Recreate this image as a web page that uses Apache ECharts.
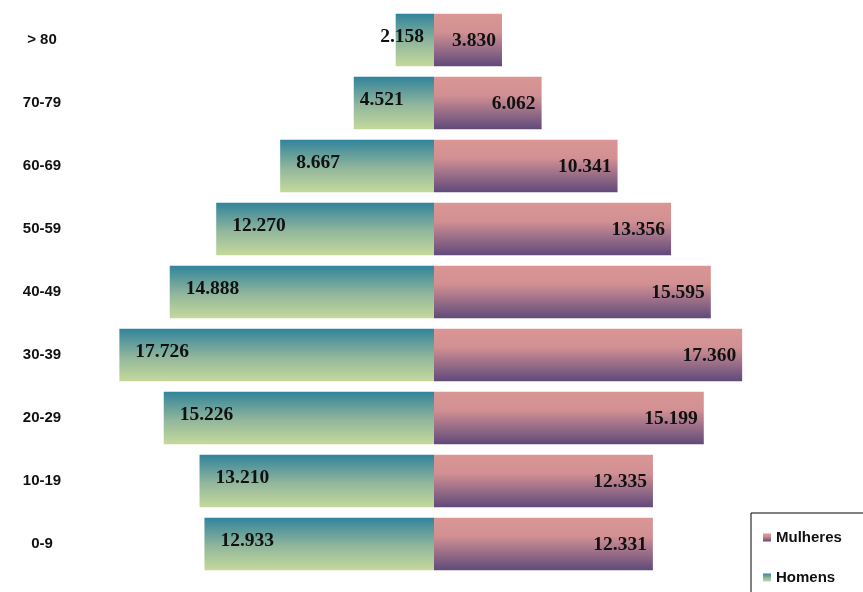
<!DOCTYPE html>
<html lang="pt">
<head>
  <meta charset="UTF-8">
  <title>Pirâmide etária</title>
  <style>
    html, body { margin: 0; padding: 0; background: #fff; }
    #main { width: 863px; height: 592px; }
  </style>
</head>
<body>
  <div id="main"></div>
  <script src="https://cdn.jsdelivr.net/npm/echarts@6/dist/echarts.min.js"></script>
  <script>
    var faixas = ['0-9', '10-19', '20-29', '30-39', '40-49', '50-59', '60-69', '70-79', '> 80']
    var homens = [12933, 13210, 15226, 17726, 14888, 12270, 8667, 4521, 2158]
    var mulheres = [12331, 12335, 15199, 17360, 15595, 13356, 10341, 6062, 3830]

    var myChart = echarts.init(document.getElementById('main'))

    // formato 12.933
    function fmt(v) {
      v = Math.abs(v)
      return Math.floor(v / 1000) + '.' + String(v % 1000).padStart(3, '0')
    }

    var labelFont = {
      fontFamily: 'Liberation Serif',
      fontWeight: 'bold',
      fontSize: 19.5,
      color: '#111'
    }

    var homensData = homens.map(function (v, i) {
      var item = { value: -v }
      if (v < 3000) item.label = { position: 'insideRight', distance: 10 }
      else if (v < 6000) item.label = { distance: 6 }
      return item
    })

    var corHomens = new echarts.graphic.LinearGradient(0, 0, 0, 1, [
      { offset: 0, color: '#31849b' },
      { offset: 0.55, color: '#93b79c' },
      { offset: 1, color: '#c4d99b' }
    ])
    var corMulheres = new echarts.graphic.LinearGradient(0, 0, 0, 1, [
      { offset: 0, color: '#da9694' },
      { offset: 0.35, color: '#d29093' },
      { offset: 1, color: '#604a7b' }
    ])

    var options = {
      animation: false,
      grid: { left: 79, right: 74, top: 8.5, bottom: 16.5 },
      xAxis: {
        type: 'value',
        min: -20000,
        max: 20000,
        show: false
      },
      yAxis: {
        type: 'category',
        data: faixas,
        axisLine: { show: false },
        axisTick: { show: false },
        axisLabel: {
          align: 'center',
          margin: 37,
          fontFamily: 'Liberation Sans',
          fontWeight: 'bold',
          fontSize: 15,
          color: '#111'
        }
      },
      legend: {
        orient: 'vertical',
        left: 751,
        top: 513,
        height: 120,
        data: ['Mulheres', 'Homens'],
        itemWidth: 8,
        itemHeight: 8,
        itemGap: 25,
        icon: 'rect',
        borderColor: '#000',
        borderWidth: 1,
        padding: [17, 30, 20, 12],
        textStyle: {
          fontFamily: 'Liberation Sans',
          fontWeight: 'bold',
          fontSize: 15,
          color: '#111'
        }
      },
      series: [
        {
          name: 'Homens',
          type: 'bar',
          stack: 'total',
          barCategoryGap: '17%',
          data: homensData,
          itemStyle: { color: corHomens },
          label: Object.assign({
            show: true,
            position: 'insideLeft',
            distance: 16,
            offset: [0, -3],
            formatter: function (p) { return fmt(p.value) }
          }, labelFont)
        },
        {
          name: 'Mulheres',
          type: 'bar',
          stack: 'total',
          barCategoryGap: '17%',
          data: mulheres,
          itemStyle: { color: corMulheres },
          label: Object.assign({
            show: true,
            position: 'insideRight',
            distance: 6,
            offset: [0, 1],
            formatter: function (p) { return fmt(p.value) }
          }, labelFont)
        }
      ]
    }
    myChart.setOption(options)
  </script>
</body>
</html>
